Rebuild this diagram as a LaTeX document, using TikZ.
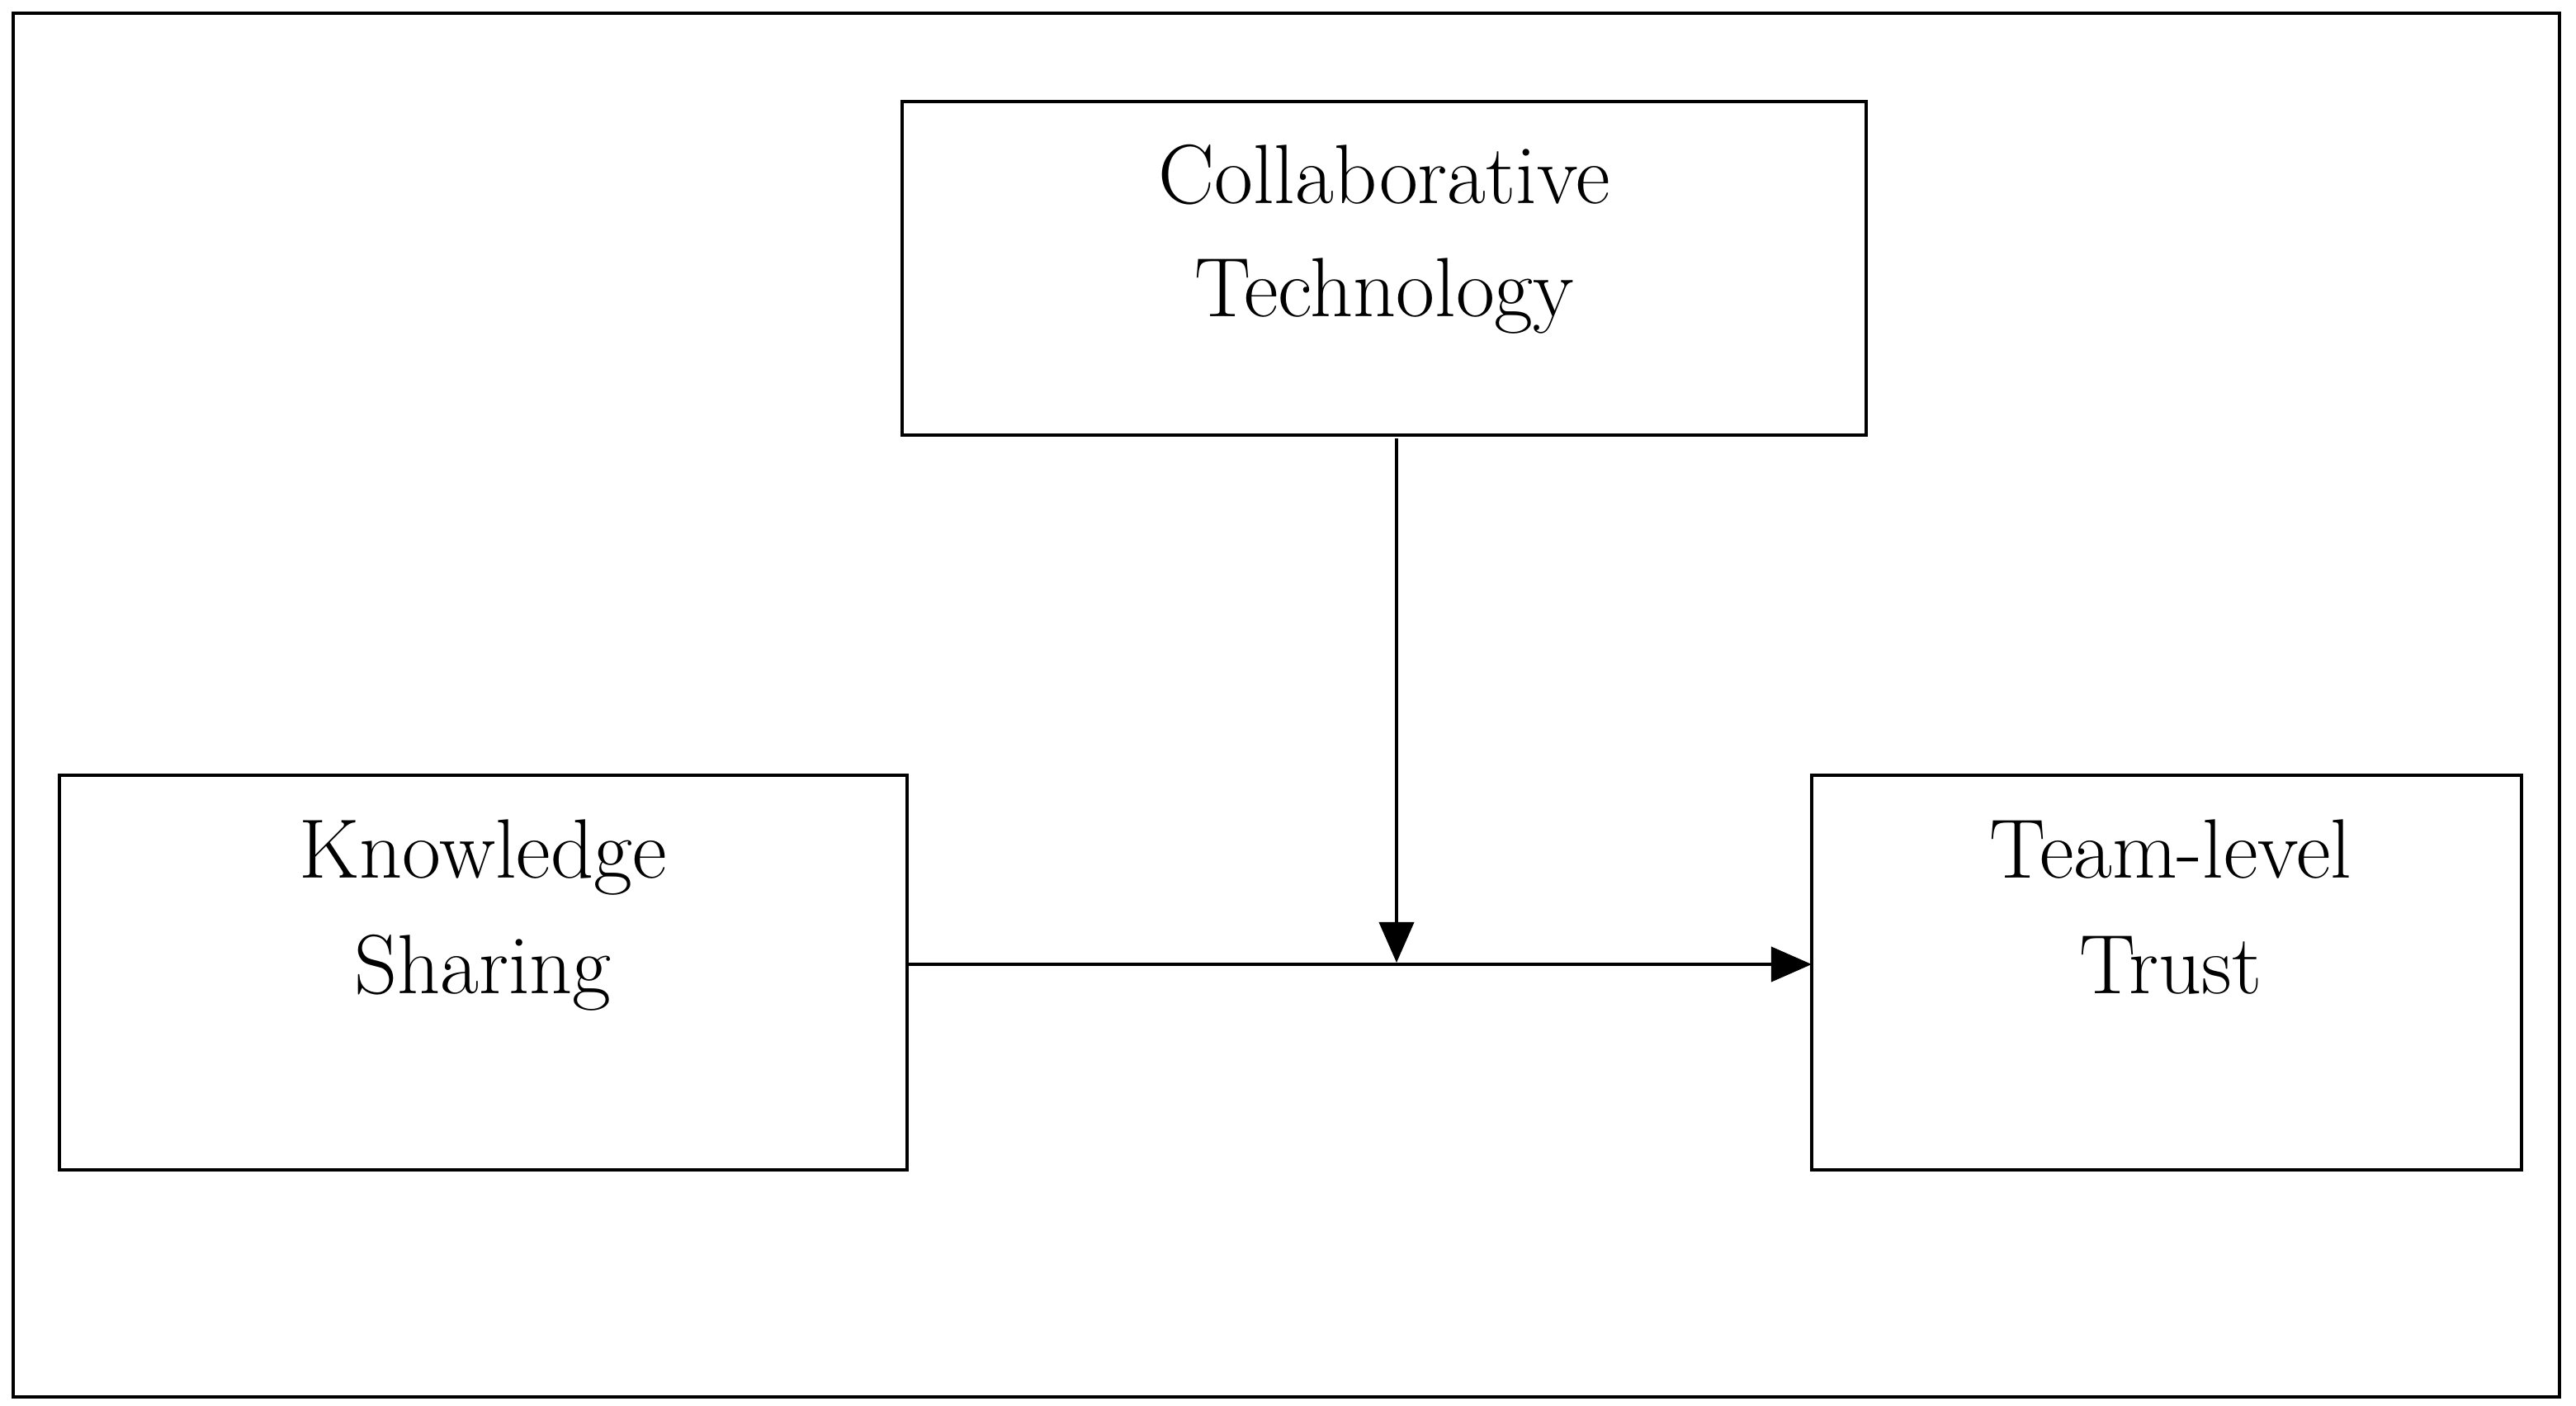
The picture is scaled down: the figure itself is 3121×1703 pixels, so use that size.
\documentclass[tikz,border=0pt]{standalone}
\usetikzlibrary{arrows.meta}
\begin{document}
\begin{tikzpicture}[x=0.01cm,y=-0.01cm,
  box/.style={draw,line width=1.1pt},
  lbl/.style={font=\fontsize{29}{36}\selectfont,align=center,anchor=base},
  arr/.style={line width=1.1pt,-{Triangle[length=14pt,width=12pt]}}]
\useasboundingbox (0,0) rectangle (3121,1703);
\draw[line width=1.3pt] (16,16) rectangle (3101,1692);
\draw[box] (1093,123) rectangle (2261,527);
\draw[box] (72,939) rectangle (1099,1417);
\draw[box] (2195,939) rectangle (3055,1417);
\node[lbl] (ct1) at (1677,247) {Collaborative};
\node[lbl] (ct2) at (1677,383) {Technology};
\node[lbl] (ks1) at (585,1063) {Knowledge};
\node[lbl] (ks2) at (585,1203) {Sharing};
\node[lbl] (tt1) at (2630,1063) {Team-level};
\node[lbl] (tt2) at (2630,1203) {Trust};
\coordinate (ksr) at (1099,1168);
\coordinate (ttl) at (2195,1168);
\coordinate (cttop) at (1692,531);
\coordinate (ctbot) at (1692,1166);
\draw[arr] (ksr) -- (ttl);
\draw[arr] (cttop) -- (ctbot);
\end{tikzpicture}
\end{document}
